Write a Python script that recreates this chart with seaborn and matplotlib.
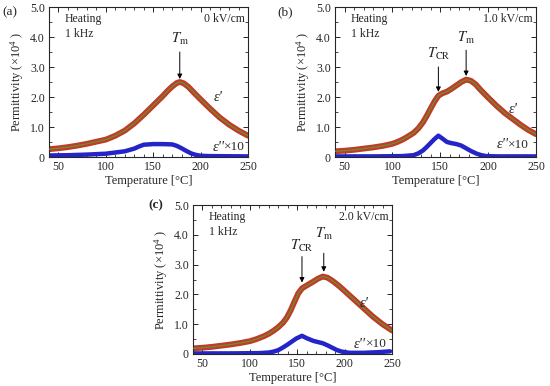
import numpy as np
import pandas as pd
import matplotlib
matplotlib.use("Agg")
import matplotlib.pyplot as plt
import seaborn as sns
from matplotlib.ticker import MultipleLocator

sns.set_style("ticks")
plt.rcParams['font.family'] = ['Liberation Serif', 'DejaVu Serif']
plt.rcParams['mathtext.fontset'] = 'stix'

# ---- data ----
temp_a = [40, 50, 60, 70, 80, 90, 100, 110, 120, 130, 140, 150, 160, 165, 170, 175, 178, 182, 187, 194, 200, 210, 220, 230, 240, 250]
eps_a = [0.26, 0.29, 0.33, 0.38, 0.44, 0.51, 0.58, 0.71, 0.88, 1.12, 1.41, 1.72, 2.03, 2.20, 2.35, 2.47, 2.50, 2.46, 2.34, 2.11, 1.92, 1.61, 1.32, 1.08, 0.88, 0.71]
loss_temp_a = [40, 60, 80, 100, 110, 120, 130, 135, 140, 150, 160, 170, 175, 180, 185, 190, 195, 200, 210, 250]
loss_a = [0.05, 0.06, 0.08, 0.11, 0.15, 0.19, 0.28, 0.35, 0.41, 0.43, 0.43, 0.42, 0.37, 0.29, 0.20, 0.12, 0.07, 0.04, 0.03, 0.02]

temp_b = [40, 50, 60, 70, 80, 90, 100, 105, 110, 115, 122, 127, 132, 136, 140, 144, 148, 152, 157, 162, 167, 172, 177, 182, 187, 192, 200, 209, 218, 226, 234, 242, 250]
eps_b = [0.19, 0.21, 0.24, 0.28, 0.32, 0.37, 0.44, 0.50, 0.57, 0.66, 0.80, 0.95, 1.16, 1.38, 1.62, 1.85, 2.04, 2.12, 2.18, 2.28, 2.39, 2.50, 2.58, 2.54, 2.42, 2.24, 1.98, 1.70, 1.45, 1.26, 1.07, 0.90, 0.76]
loss_temp_b = [40, 80, 110, 122, 127, 132, 136, 140, 144, 148, 152, 157, 162, 167, 172, 177, 182, 188, 193, 198, 210, 250]
loss_b = [0.02, 0.02, 0.03, 0.06, 0.12, 0.22, 0.34, 0.47, 0.60, 0.71, 0.62, 0.50, 0.46, 0.43, 0.38, 0.29, 0.20, 0.11, 0.06, 0.03, 0.02, 0.02]

temp_c = [40, 50, 60, 70, 80, 90, 100, 107, 115, 120, 125, 130, 135, 139, 143, 147, 151, 155, 160, 167, 172, 177, 182, 187, 195, 204, 213, 222, 230, 240, 250]
eps_c = [0.19, 0.21, 0.24, 0.28, 0.32, 0.37, 0.43, 0.50, 0.60, 0.68, 0.78, 0.90, 1.05, 1.22, 1.46, 1.75, 2.03, 2.20, 2.30, 2.43, 2.53, 2.60, 2.56, 2.46, 2.26, 2.00, 1.74, 1.48, 1.25, 1.00, 0.79]
loss_temp_c = [40, 80, 110, 120, 125, 130, 135, 139, 144, 149, 155, 160, 167, 172, 177, 182, 187, 192, 197, 205, 220, 235, 248]
loss_c = [0.02, 0.02, 0.03, 0.05, 0.08, 0.13, 0.22, 0.30, 0.41, 0.52, 0.61, 0.53, 0.44, 0.40, 0.36, 0.29, 0.21, 0.13, 0.08, 0.04, 0.04, 0.06, 0.09]

panel_labels = ["(a)", "(b)", "(c)"]
fields = ["0 kV/cm", "1.0 kV/cm", "2.0 kV/cm"]
x_ticks = [50, 100, 150, 200, 250]
y_ticks = [0, 1, 2, 3, 4, 5]
y_ticklabels = ["0", "1.0", "2.0", "3.0", "4.0", "5.0"]

RED = "#bf3b2a"
GREEN = "#6f8f2a"
BLUE = "#2424c8"

fig = plt.figure(figsize=(5.5, 3.86), dpi=100)
axes_rects = [
    [49/550, 1-157/386, 199/550, 150/386],
    [335/550, 1-157/386, 201/550, 150/386],
    [193/550, 1-354/386, 199/550, 149/386],
]
datasets = [(temp_a, eps_a, loss_temp_a, loss_a),
            (temp_b, eps_b, loss_temp_b, loss_b),
            (temp_c, eps_c, loss_temp_c, loss_c)]
# annotation specs: (subscript, x, T-centre y, arrow start y, arrow tip y)
annots = [
    [("m", 178, 3.95, 3.50, 2.60)],
    [("CR", 148, 3.46, 3.00, 2.17), ("m", 177, 4.00, 3.56, 2.70)],
    [("CR", 155, 3.66, 3.27, 2.40), ("m", 178, 4.06, 3.38, 2.76)],
]
eps_lab = [(219, 1.97), (226, 1.57), (221, 1.70)]
loss_lab = [(228, 0.33), (224, 0.40), (225, 0.33)]

for i, rect in enumerate(axes_rects):
    ax = fig.add_axes(rect)
    T, e1, T2, e2 = datasets[i]
    df1 = pd.DataFrame({"T": T, "eps": e1})
    df2 = pd.DataFrame({"T": T2, "loss": e2})
    sns.lineplot(data=df1, x="T", y="eps", ax=ax, color=RED, lw=4.2, sort=False, zorder=2)
    sns.lineplot(data=df1, x="T", y="eps", ax=ax, color=GREEN, lw=0.9, sort=False, zorder=3)
    sns.lineplot(data=df2, x="T", y="loss", ax=ax, color=BLUE, lw=3.2, sort=False, zorder=2)
    ax.set_xlim(40, 250)
    ax.set_ylim(0, 5.0)
    ax.set_xticks(x_ticks)
    ax.set_yticks(y_ticks)
    ax.set_yticklabels(y_ticklabels)
    ax.xaxis.set_minor_locator(MultipleLocator(10))
    ax.yaxis.set_minor_locator(MultipleLocator(0.5))
    ax.tick_params(which="both", direction="in", top=True, right=True, labelsize=8.5, pad=3)
    ax.tick_params(which="major", length=3.5, width=0.7)
    ax.tick_params(which="minor", length=2, width=0.6)
    for s in ax.spines.values():
        s.set_linewidth(0.8)
    ax.set_xlabel("Temperature [°C]", fontsize=9, labelpad=1)
    ax.set_ylabel("Permittivity (×10$^{\\mathregular{4}}$ )", fontsize=9, labelpad=2)
    ax.text(0.08, 0.96, "Heating\n1 kHz", transform=ax.transAxes, ha="left", va="top",
            fontsize=8.5, linespacing=1.35)
    ax.text(0.985, 0.96, fields[i], transform=ax.transAxes, ha="right", va="top", fontsize=8.5)
    for sub, x, ty, ay0, ay1 in annots[i]:
        ax.text(x, ty - 0.15, "$T_{\\mathrm{" + sub + "}}$", ha="center", va="baseline", fontsize=10.5)
        ax.annotate("", xy=(x, ay1), xytext=(x, ay0),
                    arrowprops=dict(arrowstyle="-|>", color="black", lw=0.7,
                                    mutation_scale=7, shrinkA=0, shrinkB=0))
    ax.text(eps_lab[i][0], eps_lab[i][1], "ε'", ha="center", va="center",
            fontsize=10.5, style="italic")
    lx, ly = loss_lab[i]
    ax.text(lx - 3, ly, "ε''", ha="right", va="center", fontsize=10.5, style="italic")
    ax.text(lx - 3, ly, "×10", ha="left", va="center", fontsize=9.5)
    ax.set_facecolor("white")

fig.text(2/550, 1-12/386, "(a)", fontsize=9.5, ha="left", va="center")
fig.text(277/550, 1-12/386, "(b)", fontsize=9.5, ha="left", va="center")
fig.text(148/550, 1-205/386, "(c)", fontsize=9.5, ha="left", va="center", fontweight="bold")

fig.savefig("out.png", dpi=100)
